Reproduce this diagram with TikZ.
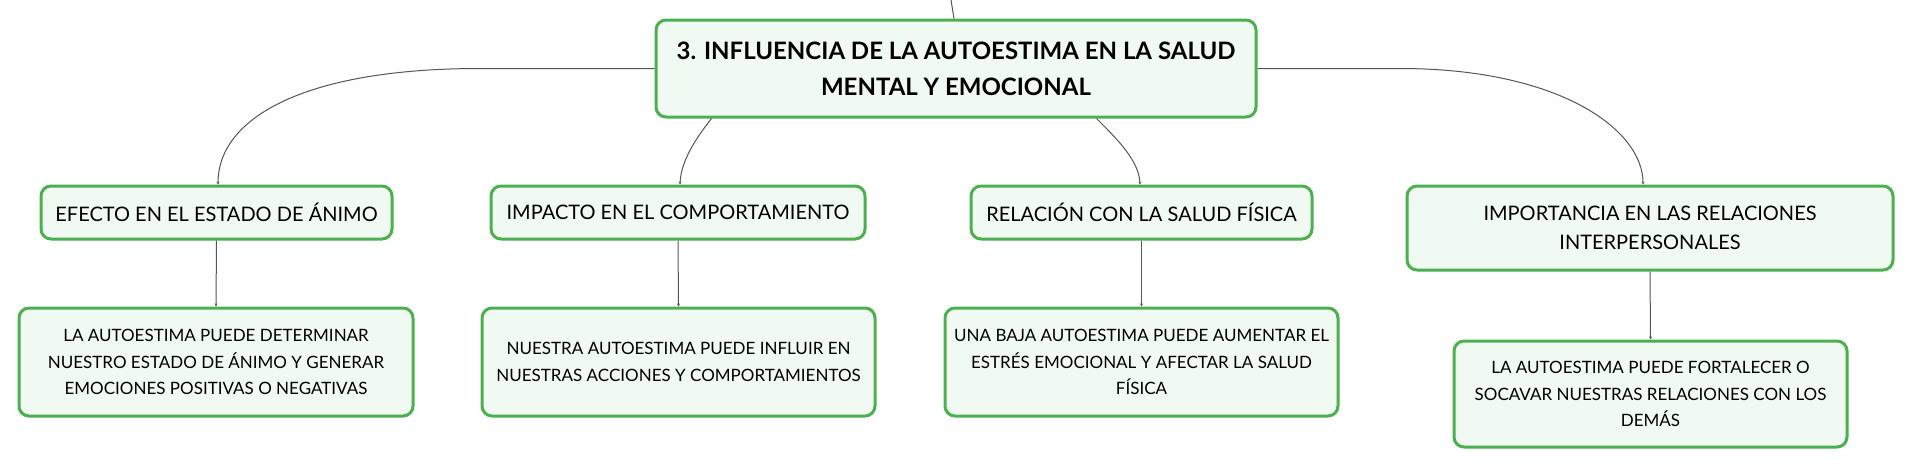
\documentclass[tikz,border=0pt]{standalone}
\usepackage{fontspec}
\setmainfont{Lato}
\usetikzlibrary{arrows.meta}
\definecolor{boxgreen}{RGB}{76,175,80}
\definecolor{boxfill}{RGB}{241,250,242}
\definecolor{linkgray}{RGB}{85,85,85}
\begin{document}
\begin{tikzpicture}[x=1pt,y=-1pt,
  mbox/.style={draw=boxgreen,fill=boxfill,line width=3pt,rounded corners=10pt,
    inner sep=0pt,align=center,text=black},
  titlebox/.style={mbox,font=\fontsize{24}{36}\selectfont\bfseries},
  childbox/.style={mbox,font=\fontsize{20}{29}\selectfont},
  subbox/.style={mbox,font=\fontsize{17}{26.7}\selectfont},
  link/.style={draw=linkgray,line width=1pt},
  tiplink/.style={link,-{Stealth[length=3pt,width=3pt]}}]
\useasboundingbox (0,0) rectangle (1914,467);
\node[titlebox,minimum width=600pt,minimum height=97pt] (C) at (956,68.5)
  {3. INFLUENCIA DE LA AUTOESTIMA EN LA SALUD\\MENTAL Y EMOCIONAL};
\node[childbox,minimum width=351pt,minimum height=53pt] (B1) at (216.5,212.5)
  {EFECTO EN EL ESTADO DE ÁNIMO};
\node[childbox,minimum width=374pt,minimum height=53pt] (B2) at (678,212.5)
  {IMPACTO EN EL COMPORTAMIENTO};
\node[childbox,minimum width=341pt,minimum height=53pt] (B3) at (1141.5,212.5)
  {RELACIÓN CON LA SALUD FÍSICA};
\node[childbox,minimum width=486pt,minimum height=84pt] (B4) at (1650,228)
  {IMPORTANCIA EN LAS RELACIONES\\INTERPERSONALES};
\node[subbox,minimum width=394pt,minimum height=108pt] (S1) at (216,362)
  {LA AUTOESTIMA PUEDE DETERMINAR\\NUESTRO ESTADO DE ÁNIMO Y GENERAR\\EMOCIONES POSITIVAS O NEGATIVAS};
\node[subbox,minimum width=393pt,minimum height=108pt] (S2) at (678.5,362)
  {NUESTRA AUTOESTIMA PUEDE INFLUIR EN\\NUESTRAS ACCIONES Y COMPORTAMIENTOS};
\node[subbox,minimum width=393pt,minimum height=108pt] (S3) at (1141.5,362)
  {UNA BAJA AUTOESTIMA PUEDE AUMENTAR EL\\ESTRÉS EMOCIONAL Y AFECTAR LA SALUD\\FÍSICA};
\node[subbox,minimum width=393pt,minimum height=106pt] (S4) at (1650.5,394)
  {LA AUTOESTIMA PUEDE FORTALECER O\\SOCAVAR NUESTRAS RELACIONES CON LOS\\DEMÁS};
% connectors
\coordinate (top) at (951,0);
\draw[link] (top) -- ([xshift=-2pt]C.north);
\coordinate (l1) at (480,68.5);
\draw[tiplink] (C.west) -- (l1) .. controls (300,68.5) and (218,120) .. ([xshift=1.5pt]B1.north);
\coordinate (r1) at (1400,68.5);
\draw[tiplink] (C.east) -- (r1) .. controls (1560,68.5) and (1643,130) .. ([xshift=-7pt]B4.north);
\draw[tiplink] ([xshift=57pt]C.south west) .. controls (697,137) and (681,160) .. ([xshift=2pt]B2.north);
\draw[tiplink] ([xshift=-161pt]C.south east) .. controls (1115,137) and (1139,160) .. ([xshift=-1.5pt]B3.north);
\draw[tiplink] (B1.south) -- (S1.north);
\draw[tiplink] (B2.south) -- (S2.north);
\draw[tiplink] (B3.south) -- (S3.north);
\draw[tiplink] (B4.south) -- (S4.north);
\end{tikzpicture}
\end{document}
